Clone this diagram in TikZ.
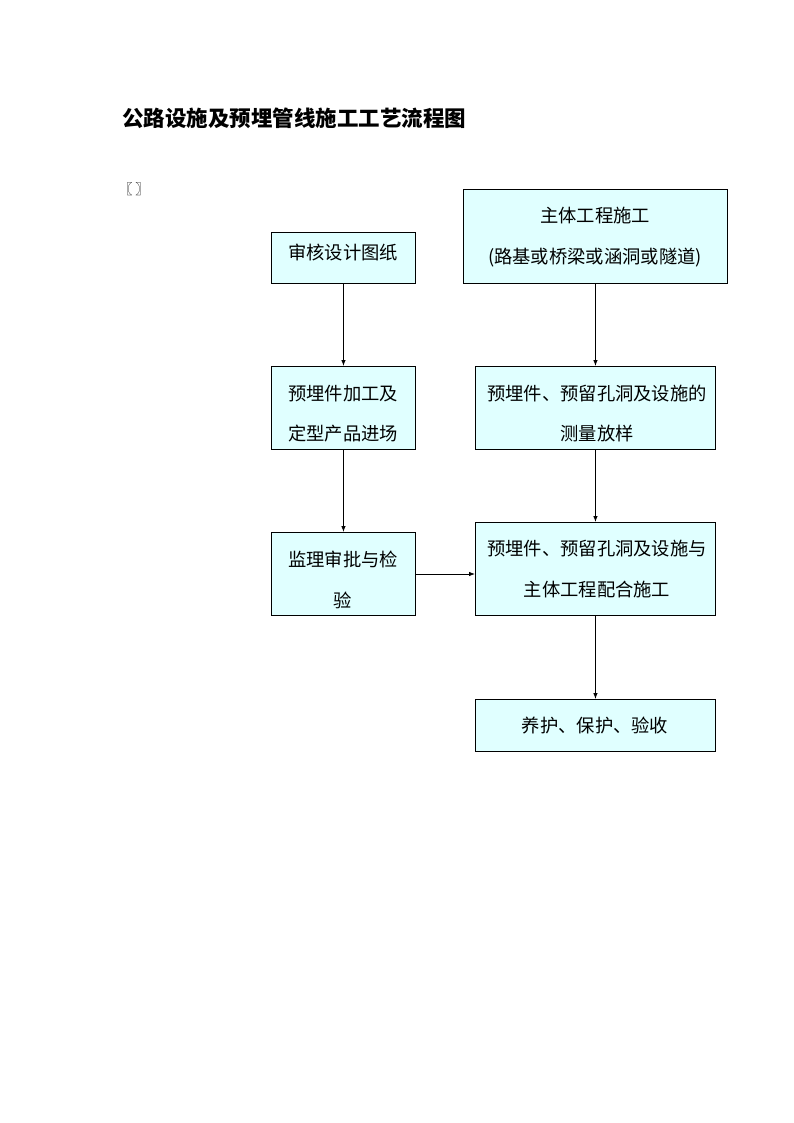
\documentclass[tikz,border=0pt]{standalone}
\usepackage{fontspec}
\setmainfont{Noto Sans CJK SC}
\usetikzlibrary{arrows.meta}
\definecolor{boxfill}{RGB}{224,255,255}
\begin{document}
\begin{tikzpicture}[x=1pt,y=-1pt,
  box/.style={draw=black,line width=0.9pt,fill=boxfill,inner sep=0pt,anchor=north west},
  txt/.style={font=\fontsize{18.3}{40.5}\selectfont,align=center,inner sep=0pt},
  arr/.style={line width=0.8pt,-{Latex[length=6pt,width=4.5pt]}}]
\useasboundingbox (0,0) rectangle (794,1123);
\node[font=\bfseries\fontsize{21.5}{24}\selectfont,anchor=west,inner sep=0pt] (title) at (122,118) {公路设施及预埋管线施工工艺流程图};
\node[font=\fontsize{14}{16}\selectfont,anchor=center,inner sep=0pt] (mark) at (134,189) {〖\hspace{3pt}〗};
% boxes
\node[box,minimum width=144pt,minimum height=51pt] (A) at (271,232) {};
\node[box,minimum width=264pt,minimum height=94pt] (B) at (463,189) {};
\node[box,minimum width=144pt,minimum height=83pt] (C) at (271,366) {};
\node[box,minimum width=240pt,minimum height=83pt] (D) at (475,366) {};
\node[box,minimum width=144pt,minimum height=83pt] (E) at (271,532) {};
\node[box,minimum width=240pt,minimum height=93pt] (F) at (475,522) {};
\node[box,minimum width=240pt,minimum height=52pt] (G) at (475,699) {};
% texts
\node[txt] (At) at (343,253) {审核设计图纸};
\node[txt] (Bt) at (595,237) {主体工程施工\\(路基或桥梁或涵洞或隧道)};
\node[txt] (Ct) at (343,413.5) {预埋件加工及\\定型产品进场};
\node[txt] (Dt) at (597,413.5) {预埋件、预留孔洞及设施的\\测量放样};
\node[txt] (Et) at (343,580) {监理审批与检\\验};
\node[txt] (Ft) at (597,569) {预埋件、预留孔洞及设施与\\主体工程配合施工};
\node[txt] (Gt) at (595,726) {养护、保护、验收};
% connectors
\draw[arr] (A.south) -- (C.north);
\draw[arr] (B.south) -- (D.north -| B.south);
\draw[arr] (C.south) -- (E.north);
\draw[arr] (D.south) -- (F.north);
\draw[arr] (E.east |- 0,574) -- (F.west |- 0,574);
\draw[arr] (F.south) -- (G.north);
\end{tikzpicture}
\end{document}
